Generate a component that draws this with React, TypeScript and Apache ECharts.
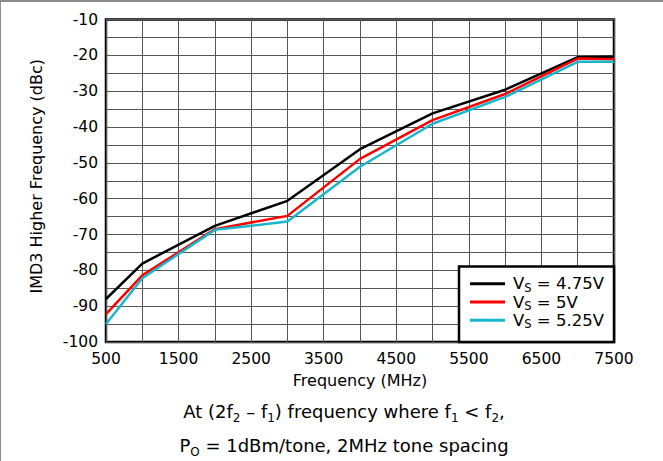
import React, { useEffect, useRef } from "react";
import * as echarts from "echarts";

const freqMHz = [500, 1000, 2000, 3000, 4000, 5000, 6000, 7000, 7500];
const vs475 = [-88.0, -78.1, -67.6, -60.6, -46.2, -36.2, -29.6, -20.5, -20.4];
const vs5 = [-92.2, -81.4, -68.5, -64.8, -48.9, -38.1, -30.8, -20.9, -21.1];
const vs525 = [-95.0, -82.2, -68.7, -66.4, -51.1, -39.1, -31.6, -21.8, -21.8];

const seriesNames = ["VS = 4.75V", "VS = 5V", "VS = 5.25V"];
const seriesColors = ["#000000", "#ff0000", "#19b6cb"];
const legendValues = ["4.75V", "5V", "5.25V"];

const FONT = "DejaVu Sans, Liberation Sans, Arial, sans-serif";

export default function App() {
  const ref = useRef<HTMLDivElement>(null);
  useEffect(() => {
    if (!ref.current) return;
    const chart = echarts.init(ref.current, undefined, { renderer: "svg" });
    const allData = [vs475, vs5, vs525];
    const rich = {
      a: { fontSize: 18, fontFamily: FONT, color: "#000", lineHeight: 26 },
      s: { fontSize: 12, fontFamily: FONT, color: "#000", verticalAlign: "bottom" },
    };
    chart.setOption({
      animation: false,
      backgroundColor: "#ffffff",
      grid: {
        left: 106,
        right: 49,
        top: 19.5,
        bottom: 119,
        show: true,
        borderColor: "#000",
        borderWidth: 2.5,
        containLabel: false,
      },
      xAxis: {
        type: "value",
        min: 500,
        max: 7500,
        interval: 500,
        name: "Frequency (MHz)",
        nameLocation: "middle",
        nameGap: 30,
        nameTextStyle: { fontSize: 16, fontFamily: FONT, color: "#000" },
        axisLine: { show: false },
        axisTick: { show: false },
        axisLabel: {
          fontSize: 15.5,
          fontFamily: FONT,
          color: "#000",
          margin: 9,
          formatter: (v: number) => ((v - 500) % 1000 === 0 ? String(v) : ""),
        },
        splitLine: { show: true, lineStyle: { color: "#555", width: 1 } },
      },
      yAxis: {
        type: "value",
        min: -100,
        max: -10,
        interval: 5,
        name: "IMD3 Higher Frequency (dBc)",
        nameLocation: "middle",
        nameRotate: 90,
        nameGap: 62,
        nameTextStyle: {
          fontSize: 16,
          fontFamily: FONT,
          color: "#000",
          padding: [0, 0, 0, 9],
        },
        axisLine: { show: false },
        axisTick: { show: false },
        axisLabel: {
          fontSize: 15.5,
          fontFamily: FONT,
          color: "#000",
          margin: 8,
          formatter: (v: number) => (v % 10 === 0 ? String(v) : ""),
        },
        splitLine: { show: true, lineStyle: { color: "#555", width: 1 } },
      },
      legend: {
        orient: "vertical",
        left: 470,
        top: 275.25,
        padding: 0,
        itemWidth: 35,
        itemHeight: 3,
        itemGap: 0,
        icon: "rect",
        z: 6,
        data: seriesNames,
        formatter: (name: string) => {
          const i = seriesNames.indexOf(name);
          return `{m|V}{s|S}{m| = ${legendValues[i]}}`;
        },
        textStyle: {
          fontSize: 16.5,
          fontFamily: FONT,
          color: "#000",
          padding: [0, 0, 0, 3],
          rich: {
            m: { fontSize: 16.5, fontFamily: FONT, color: "#000", lineHeight: 19.5 },
            s: { fontSize: 11.5, fontFamily: FONT, color: "#000", verticalAlign: "bottom" },
          },
        },
      },
      graphic: [
        {
          type: "rect",
          z: 5,
          shape: { x: 459, y: 266.5, width: 155, height: 75.5 },
          style: { fill: "#fff", stroke: "#000", lineWidth: 2.5 },
        },
        {
          type: "rect",
          z: 5,
          shape: { x: 0, y: 0, width: 663, height: 2 },
          style: { fill: "#8c8c8c" },
        },
        {
          type: "rect",
          z: 5,
          shape: { x: 0, y: 0, width: 1, height: 461 },
          style: { fill: "#8c8c8c" },
        },
        {
          type: "text",
          z: 5,
          x: 344,
          y: 398,
          style: {
            text: "{a|At (2f}{s|2}{a| – f}{s|1}{a|) frequency where f}{s|1}{a| < f}{s|2}{a|,}",
            textAlign: "center",
            rich,
          },
        },
        {
          type: "text",
          z: 5,
          x: 344,
          y: 432,
          style: {
            text: "{a|P}{s|O}{a| = 1dBm/tone, 2MHz tone spacing}",
            textAlign: "center",
            rich,
          },
        },
      ],
      series: allData.map((vals, i) => ({
        name: seriesNames[i],
        type: "line",
        data: freqMHz.map((f, j) => [f, vals[j]]),
        symbol: "none",
        z: 3,
        lineStyle: { color: seriesColors[i], width: 2.5 },
        itemStyle: { color: seriesColors[i] },
      })),
    });
    return () => chart.dispose();
  }, []);
  return (
    <div style={{ position: "fixed", left: 0, top: 0, width: 663, height: 461 }}>
      <div ref={ref} style={{ width: 663, height: 461 }} />
    </div>
  );
}
